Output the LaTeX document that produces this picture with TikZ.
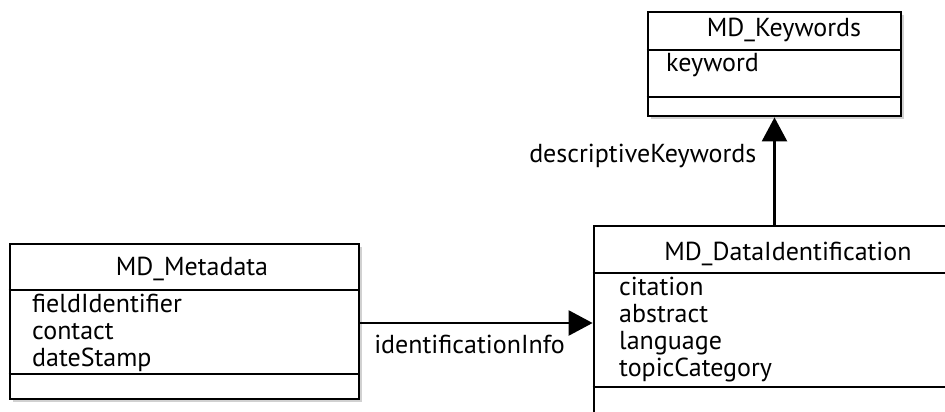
\documentclass[tikz,border=0pt]{standalone}
\usepackage{fontspec}
\setmainfont{PT Sans}
\usetikzlibrary{arrows.meta,shadows,positioning}

\tikzset{
  classbox/.style={draw,line width=2.8pt,fill=white,inner sep=0pt,
    drop shadow={shadow xshift=3pt,shadow yshift=-3pt,opacity=.3,fill=black!60}},
  divider/.style={line width=2pt},
  assoc/.style={line width=2.5pt,-{Triangle[length=24pt,width=25pt]}},
  uml/.style={font=\fontsize{26}{27}\selectfont,inner sep=0pt},
  attr/.style={uml,anchor=base west},
}

\begin{document}
\begin{tikzpicture}[x=1pt,y=-1pt]
	\useasboundingbox (0,0) rectangle (945,412);
	\clip (0,0) rectangle (945,412);

	% classes
	\node[classbox,minimum width=349pt,minimum height=155pt] (meta) at (184.5,321.5) {};
	\node[classbox,minimum width=388pt,minimum height=214pt] (data) at (788,333) {};
	\node[classbox,minimum width=253pt,minimum height=104pt] (kw) at (774.5,64) {};

	% MD_Metadata
	\draw[divider] (meta.west |- 0,290) -- (meta.east |- 0,290);
	\draw[divider] (meta.west |- 0,374) -- (meta.east |- 0,374);
	\node[uml,anchor=base] (metaname) at (192,275) {MD\_Metadata};
	\node[attr] (fieldid) at (32,312) {fieldIdentifier};
	\node[attr] (contact) at (32,339) {contact};
	\node[attr] (datestamp) at (32,366) {dateStamp};

	% MD_DataIdentification
	\draw[divider] (data.west |- 0,273) -- (data.east |- 0,273);
	\draw[divider] (data.west |- 0,387) -- (data.east |- 0,387);
	\node[uml,anchor=base] (dataname) at (788,260) {MD\_DataIdentification};
	\node[attr] (citation) at (619,295) {citation};
	\node[attr] (abstract) at (619,322) {abstract};
	\node[attr] (language) at (619,349) {language};
	\node[attr] (topiccat) at (619,376) {topicCategory};

	% MD_Keywords
	\draw[divider] (kw.west |- 0,50) -- (kw.east |- 0,50);
	\draw[divider] (kw.west |- 0,97) -- (kw.east |- 0,97);
	\node[uml,anchor=base] (kwname) at (784,37) {MD\_Keywords};
	\node[attr] (keyword) at (666,72) {keyword};

	% associations
	\draw[assoc] (meta.east |- 0,323) -- (data.west |- 0,323)
		node[uml,anchor=base west] (infolabel) at (373,353) {identificationInfo};
	\draw[assoc] (kw.south |- data.north) -- (kw.south)
		node[uml,anchor=base west] (kwlabel) at (528,162) {descriptiveKeywords};
\end{tikzpicture}
\end{document}
